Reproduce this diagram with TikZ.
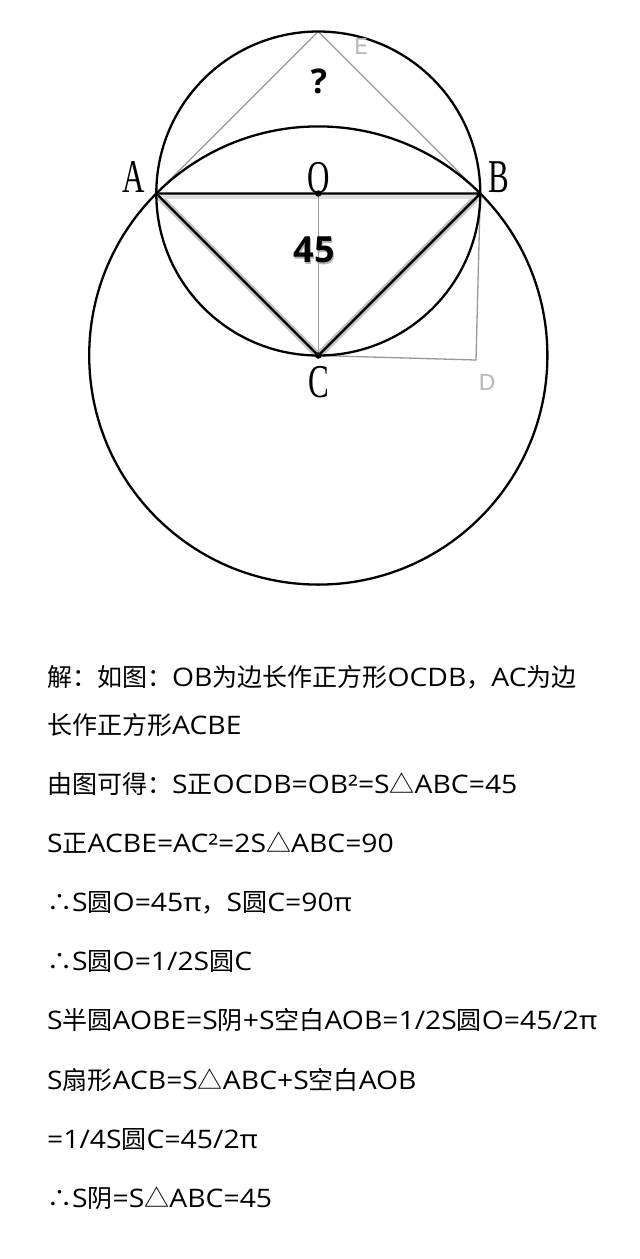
\documentclass[tikz,border=0pt]{standalone}
\usepackage{fontspec}
\setmainfont{Open Sans}[FakeStretch=1.11]
\newfontfamily\plainOS{Open Sans}
\newfontfamily\cjk{Noto Sans CJK SC}
\newfontfamily\serifL{Liberation Serif}
\newfontfamily\sansL{DejaVu Sans}
\newcommand{\zhs}[1]{{\cjk\fontsize{25}{30}\selectfont #1}}
\begin{document}
\begin{tikzpicture}[x=1pt,y=-1pt,
  thickline/.style={line width=2.4pt,black},
  greyline/.style={line width=1.3pt,color=black!40},
  halo/.style={line width=7pt,color=black!22},
  ptlabel/.style={font=\serifL\fontsize{47}{47}\selectfont,xscale=0.66,inner sep=0pt},
  greylabel/.style={font=\sansL\fontsize{22}{22}\selectfont,text=black!28,inner sep=0pt},
  bignum/.style={font=\plainOS\bfseries\fontsize{36}{36}\selectfont,inner sep=0pt},
  txt/.style={anchor=base west,inner sep=0pt,font=\fontsize{25.5}{30}\selectfont}]
\useasboundingbox (0,0) rectangle (640,1259);
\fill[white] (0,0) rectangle (640,1259);
\coordinate (O) at (318.3,193.5);
\coordinate (A) at (156.3,193.5);
\coordinate (B) at (480.3,193.5);
\coordinate (E) at (318.3,31.5);
\coordinate (C) at (318.3,355.5);
\coordinate (D) at (476,360);
% halo of triangle
\draw[halo,line join=round] (A) -- (C) -- (B);
\draw[line width=5pt,color=black!13] ([yshift=-3pt]A) -- ([yshift=-3pt]B);
% grey construction lines
\draw[greyline] (A) -- (E) -- (B);
\draw[greyline] (O) -- (C);
\draw[greyline] (C) -- (D) -- (B);
% circles
\draw[line width=2.3pt] (O) circle[radius=162];
\draw[line width=2.3pt] (C) circle[radius=229.1];
% triangle
\draw[thickline,line join=round] (A) -- (B) -- (C) -- cycle;
\fill (O) circle[radius=3.2];
\fill (C) circle[radius=3.2];
% labels
\node[ptlabel] (lA) at (134,177) {A};
\node[ptlabel] (lB) at (499,177) {B};
\node[ptlabel] (lO) at (318.5,178) {O};
\node[ptlabel] (lC) at (319,382) {C};
\node[greylabel] (lE) at (361,46) {E};
\node[greylabel] (lD) at (487,382) {D};
\node[bignum,font=\plainOS\bfseries\fontsize{34}{34}\selectfont] (q) at (319,81) {?};
\node[bignum,text=black!30] (n45h) at (315.5,251.5) {45};
\node[bignum] (n45) at (314,250) {45};
% text
\node[txt] (t1) at (47,686) {\zhs{解：如图：}OB\zhs{为边长作正方形}OCDB\zhs{，}AC\zhs{为边}};
\node[txt] (t2) at (47,734) {\zhs{长作正方形}ACBE};
\node[txt] (t3) at (47,793) {\zhs{由图可得：}S\zhs{正}OCDB=OB²=S\zhs{△}ABC=45};
\node[txt] (t4) at (47,852) {S\zhs{正}ACBE=AC²=2S\zhs{△}ABC=90};
\node[txt] (t5) at (47,911) {\zhs{∴}S\zhs{圆}O=45π\zhs{，}S\zhs{圆}C=90π};
\node[txt] (t6) at (47,970) {\zhs{∴}S\zhs{圆}O=1/2S\zhs{圆}C};
\node[txt] (t7) at (47,1029) {S\zhs{半圆}AOBE=S\zhs{阴}+S\zhs{空白}AOB=1/2S\zhs{圆}O=45/2π};
\node[txt] (t8) at (47,1089) {S\zhs{扇形}ACB=S\zhs{△}ABC+S\zhs{空白}AOB};
\node[txt] (t9) at (47,1148) {=1/4S\zhs{圆}C=45/2π};
\node[txt] (t10) at (47,1207) {\zhs{∴}S\zhs{阴}=S\zhs{△}ABC=45};
\end{tikzpicture}
\end{document}
